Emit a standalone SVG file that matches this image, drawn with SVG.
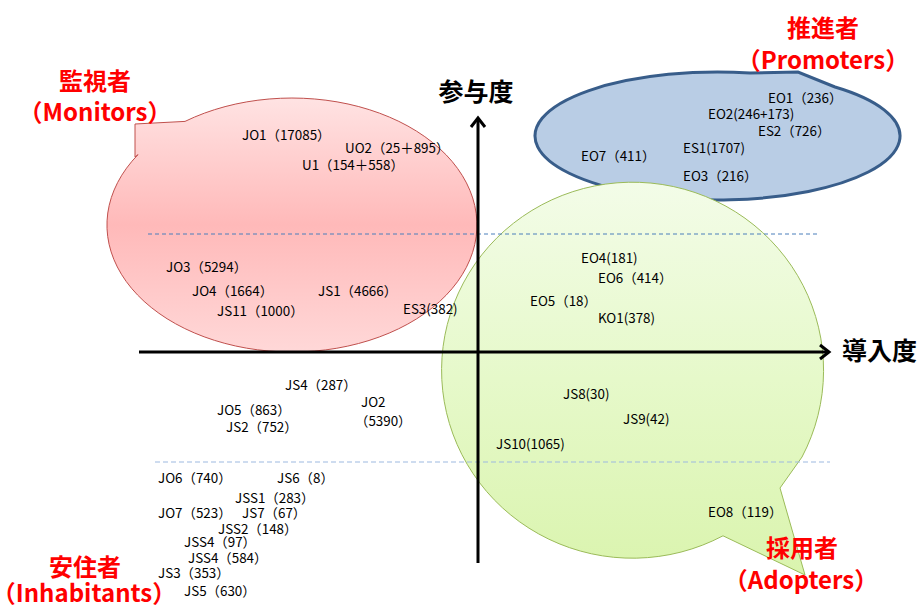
<svg xmlns="http://www.w3.org/2000/svg" width="923" height="608" viewBox="0 0 923 608">
<style>
.lbl{font-family:"Noto Sans CJK JP","Liberation Sans",sans-serif;font-size:13.4px;fill:#000}
.cat{font-family:"Noto Sans CJK JP","Liberation Sans",sans-serif;font-size:24px;font-weight:bold;fill:#FF0000;text-anchor:middle}
.axl{font-family:"Noto Sans CJK JP","Liberation Sans",sans-serif;font-size:25px;font-weight:bold;fill:#000}
.axis{fill:none;stroke:#000;stroke-width:3}
.dash1{stroke:#4A7EBB;stroke-width:1;stroke-dasharray:4 3}
.dash2{stroke:#9DB9E0;stroke-width:1;stroke-dasharray:5 3}
</style>
<defs>
<linearGradient id="gRed" x1="0" y1="0" x2="0" y2="1">
<stop offset="0" stop-color="#FFE3E3"/>
<stop offset="0.5" stop-color="#FFB9B9"/>
<stop offset="1" stop-color="#FFD8D8"/>
</linearGradient>
<linearGradient id="gGreen" x1="0" y1="0" x2="0" y2="1">
<stop offset="0" stop-color="#F3FCE8"/>
<stop offset="0.5" stop-color="#E6F9CA"/>
<stop offset="1" stop-color="#DAF4AE"/>
</linearGradient>
</defs>
<rect width="923" height="608" fill="#FFFFFF"/>

<g id="monitors">
<path d="M185,121.4 L135,124 L135,157 L138,154.6 A185,127 0 1 0 185,121.4 Z" fill="url(#gRed)" stroke="#C0504D" stroke-width="1"/>
</g>
<g id="promoters">
<path d="M750,73 L798,72 L835,87 A182.5,64 0 1 1 750,73 Z" fill="#B9CDE5" stroke="#385D8A" stroke-width="3"/>
</g>
<g id="adopters">
<path d="M723,535.8 A191,188 0 1 1 802,457 L780,488 L805,575 Z" fill="url(#gGreen)" stroke="#9BBB59" stroke-width="1"/>
</g>

<g id="connectors">
<line class="dash1" x1="148" y1="234" x2="820" y2="234"/>
<line class="dash2" x1="155" y1="462" x2="830" y2="462"/>
<line class="axis" x1="139" y1="352" x2="828" y2="352"/>
<polyline class="axis" points="820,345 829,352 820,359"/>
<line class="axis" x1="478" y1="563" x2="478" y2="119"/>
<polyline class="axis" points="471,127 478,118 485,127"/>
</g>

<g id="axis-labels">
<text class="axl" x="476" y="101" text-anchor="middle">参与度</text>
<text class="axl" x="842" y="360">導入度</text>
</g>

<g id="category-labels">
<text class="cat" x="95" y="90">監視者</text>
<text class="cat" x="95" y="121">（Monitors）</text>
<text class="cat" x="823" y="37">推進者</text>
<text class="cat" x="823" y="69">（Promoters）</text>
<text class="cat" x="802" y="557">採用者</text>
<text class="cat" x="801" y="589">（Adopters）</text>
<text class="cat" x="85" y="576">安住者</text>
<text class="cat" x="84" y="602">（Inhabitants）</text>
</g>

<g id="monitor-items">
<text class="lbl" x="242" y="140">JO1（17085）</text>
<text class="lbl" x="345" y="153">UO2（25＋895）</text>
<text class="lbl" x="302" y="170">U1（154＋558）</text>
<text class="lbl" x="166" y="272">JO3（5294）</text>
<text class="lbl" x="192" y="296">JO4（1664）</text>
<text class="lbl" x="318" y="296">JS1（4666）</text>
<text class="lbl" x="217" y="316">JS11（1000）</text>
<text class="lbl" x="403" y="314">ES3(382)</text>
</g>

<g id="promoter-items">
<text class="lbl" x="768" y="103">EO1（236）</text>
<text class="lbl" x="708" y="119">EO2(246+173)</text>
<text class="lbl" x="758" y="136">ES2（726）</text>
<text class="lbl" x="683" y="153">ES1(1707)</text>
<text class="lbl" x="581" y="161">EO7（411）</text>
<text class="lbl" x="683" y="181">EO3（216）</text>
</g>

<g id="adopter-items">
<text class="lbl" x="581" y="263">EO4(181)</text>
<text class="lbl" x="598" y="283">EO6（414）</text>
<text class="lbl" x="530" y="306">EO5（18）</text>
<text class="lbl" x="598" y="323">KO1(378)</text>
<text class="lbl" x="563" y="399">JS8(30)</text>
<text class="lbl" x="623" y="424">JS9(42)</text>
<text class="lbl" x="496" y="449">JS10(1065)</text>
<text class="lbl" x="708" y="517">EO8（119）</text>
</g>

<g id="inhabitant-items">
<text class="lbl" x="285" y="390">JS4（287）</text>
<text class="lbl" x="217" y="415">JO5（863）</text>
<text class="lbl" x="226" y="432">JS2（752）</text>
<text class="lbl" x="361" y="407">JO2</text>
<text class="lbl" x="355" y="426">（5390）</text>
<text class="lbl" x="158" y="483">JO6（740）</text>
<text class="lbl" x="277" y="483">JS6（8）</text>
<text class="lbl" x="235" y="503">JSS1（283）</text>
<text class="lbl" x="158" y="518">JO7（523）</text>
<text class="lbl" x="242" y="518">JS7（67）</text>
<text class="lbl" x="218" y="534">JSS2（148）</text>
<text class="lbl" x="184" y="547">JSS4（97）</text>
<text class="lbl" x="188" y="563">JSS4（584）</text>
<text class="lbl" x="158" y="578">JS3（353）</text>
<text class="lbl" x="184" y="596">JS5（630）</text>
</g>
</svg>
